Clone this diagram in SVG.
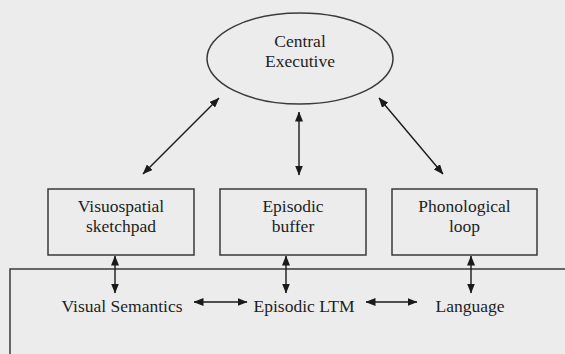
<svg xmlns="http://www.w3.org/2000/svg" width="565" height="354" viewBox="0 0 565 354">
<style>
.bg{fill:#ececec}
.box{fill:none;stroke:#3a3a3a;stroke-width:1.5}
.t{font-family:"Liberation Serif","Times New Roman",serif;font-size:17.5px;fill:#1e1e1e;text-anchor:middle}
.c{stroke:#1a1a1a;stroke-width:1.4;fill:none;marker-start:url(#ah);marker-end:url(#ah)}
</style>
<defs>
<marker id="ah" viewBox="0 0 10 8" refX="9.5" refY="4" markerWidth="10" markerHeight="8" markerUnits="userSpaceOnUse" orient="auto-start-reverse">
<path d="M0,0 L10,4 L0,8 z" fill="#1a1a1a"/>
</marker>
</defs>
<rect class="bg" x="0" y="0" width="565" height="354"/>
<g id="central-executive">
<ellipse class="box" cx="300" cy="58.5" rx="93" ry="45.5"/>
<text class="t" x="300" y="47">Central</text>
<text class="t" x="300" y="67">Executive</text>
</g>
<g id="visuospatial">
<rect class="box" x="48" y="189" width="146" height="66"/>
<text class="t" x="121" y="212">Visuospatial</text>
<text class="t" x="121" y="232">sketchpad</text>
</g>
<g id="episodic-buffer">
<rect class="box" x="220" y="189" width="146" height="66"/>
<text class="t" x="293" y="212">Episodic</text>
<text class="t" x="293" y="232">buffer</text>
</g>
<g id="phonological">
<rect class="box" x="392" y="189" width="145" height="66"/>
<text class="t" x="464.5" y="212">Phonological</text>
<text class="t" x="464.5" y="232">loop</text>
</g>
<g id="ltm-frame">
<path class="box" d="M10,354 L10,269 L565,269"/>
</g>
<g id="visual-semantics"><text class="t" x="122" y="312">Visual Semantics</text></g>
<g id="episodic-ltm"><text class="t" x="304" y="312">Episodic LTM</text></g>
<g id="language"><text class="t" x="470" y="312">Language</text></g>
<g id="connectors">
<line class="c" x1="143" y1="174" x2="219" y2="98"/>
<line class="c" x1="299" y1="112" x2="299" y2="175"/>
<line class="c" x1="379" y1="98" x2="443" y2="174"/>
<line class="c" x1="115" y1="256" x2="115" y2="293"/>
<line class="c" x1="286" y1="256" x2="286" y2="293"/>
<line class="c" x1="471" y1="256" x2="471" y2="293"/>
<line class="c" x1="194" y1="302" x2="247" y2="302"/>
<line class="c" x1="366" y1="302" x2="417" y2="302"/>
</g>
</svg>
